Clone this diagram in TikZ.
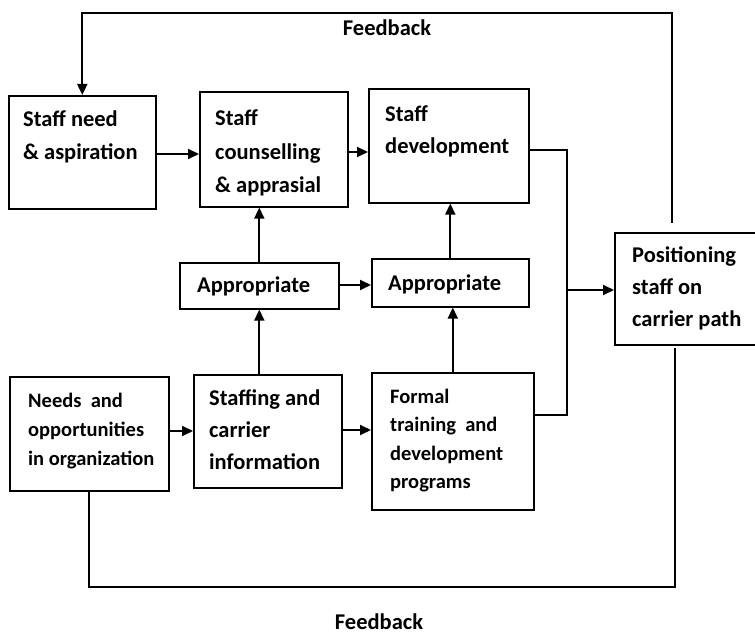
\documentclass[tikz,border=0pt]{standalone}
\usepackage{fontspec}
\setmainfont{Carlito}
\usetikzlibrary{arrows.meta}
\newcommand{\tb}[3]{\parbox[t]{150pt}{\fontsize{#1}{#2}\selectfont\bfseries #3}}
\begin{document}
\begin{tikzpicture}[x=1pt,y=-1pt,
  box/.style={draw, line width=1.6pt, inner sep=0pt, anchor=north west},
  txt/.style={anchor=base west, inner sep=0pt},
  lbl/.style={anchor=base, inner sep=0pt, font=\fontsize{22.5}{28}\selectfont\bfseries},
  arr/.style={line width=1.9pt, -{Triangle[length=11pt,width=10pt]}},
  ln/.style={line width=1.5pt}]
\useasboundingbox[fill=white] (0,0) rectangle (755,636);

% boxes
\node[box, minimum width=147pt, minimum height=113pt] (need) at (8,95) {};
\node[box, minimum width=148pt, minimum height=115pt] (couns) at (199,91) {};
\node[box, minimum width=160pt, minimum height=114pt] (dev) at (368,88) {};
\node[box, minimum width=159pt, minimum height=46pt] (ap1) at (179,262) {};
\node[box, minimum width=157pt, minimum height=48pt] (ap2) at (371,258) {};
\node[box, minimum width=142pt, minimum height=112pt] (pos) at (614,232) {};
\node[box, minimum width=159pt, minimum height=114pt] (needs) at (9,376) {};
\node[box, minimum width=148pt, minimum height=113pt] (staffing) at (193,374) {};
\node[box, minimum width=162pt, minimum height=137pt] (formal) at (371,372) {};

% texts
\node[txt] (needT) at (23,127) {\tb{22.5}{33}{Staff need\\\& aspiration}};
\node[txt] (counsT) at (215,126) {\tb{22.5}{33.5}{Staff\\counselling\\\& apprasial}};
\node[txt] (devT) at (385,122) {\tb{22.5}{32}{Staff\\development}};
\node[txt] (ap1T) at (197,293) {\tb{22.5}{28}{Appropriate}};
\node[txt] (ap2T) at (388,291) {\tb{22.5}{28}{Appropriate}};
\node[txt] (posT) at (632,263) {\tb{22.5}{32}{Positioning\\staff on\\carrier path}};
\node[txt] (needsT) at (28,407) {\tb{20.5}{29}{Needs~ and\\opportunities\\in organization}};
\node[txt] (staffingT) at (209,405) {\tb{22.5}{32}{Staffing and\\carrier\\information}};
\node[txt] (formalT) at (390,403) {\tb{20.5}{28.5}{Formal\\training~ and\\development\\programs}};
\node[lbl] (fbTop) at (387,36) {Feedback};
\node[lbl] (fbBot) at (379,629) {Feedback};

% arrows
\draw[arr] (need.east |- 0,154) -- (couns.west |- 0,154);
\draw[arr] (couns.east |- 0,152) -- (dev.west |- 0,152);
\draw[arr] (ap1.north) -- (ap1.north |- couns.south);
\draw[arr] (ap1.south |- staffing.north) -- (ap1.south);
\draw[arr] (ap1.east |- 0,285) -- (ap2.west |- 0,285);
\draw[arr] (ap2.north) -- (ap2.north |- dev.south);
\draw[arr] (formal.north) -- (formal.north |- ap2.south);
\draw[arr] (needs.east |- 0,431) -- (staffing.west |- 0,431);
\draw[arr] (staffing.east |- 0,430) -- (formal.west |- 0,430);

\coordinate (bus) at (567,290);
\draw[ln] (dev.east |- 0,150) -| (bus) |- (formal.east |- 0,415);
\draw[arr] (bus) -- (bus -| pos.west);

% feedback loops
\coordinate (ft) at (672,223);
\coordinate (fc1) at (672,13);
\draw[arr] (ft) -- (fc1) -| (need.north);
\coordinate (fb) at (675,348);
\coordinate (fbc) at (675,587);
\draw[line width=1.8pt] (needs.south) |- (fbc) -- (fb);
\end{tikzpicture}
\end{document}
